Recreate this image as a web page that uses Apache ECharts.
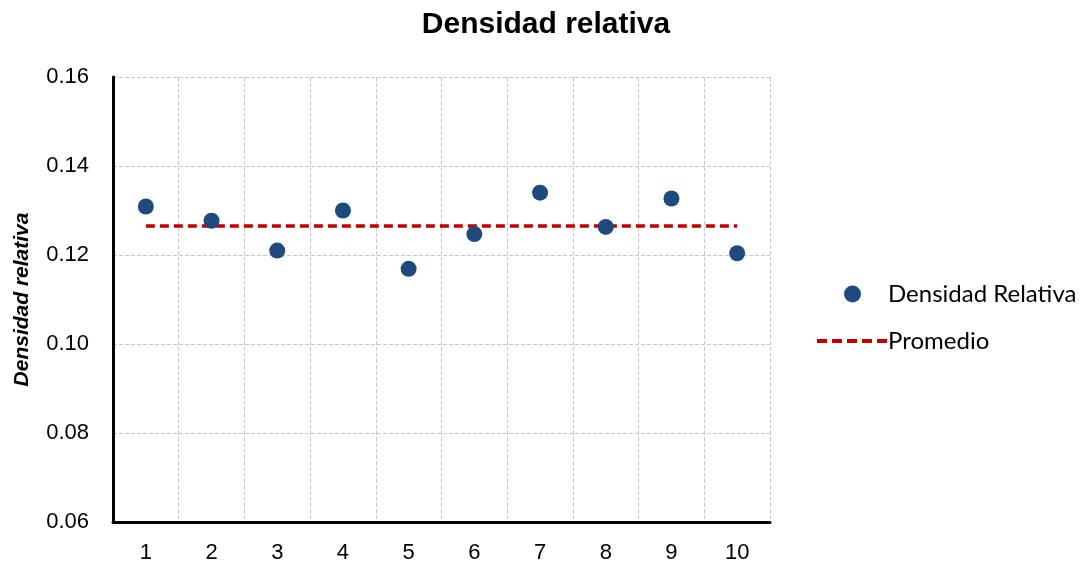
<!DOCTYPE html>
<html><head><meta charset="utf-8">
<script src="https://cdn.jsdelivr.net/npm/echarts@6/dist/echarts.min.js"></script>
<style>html,body{margin:0;padding:0;background:#fff}#c{width:1086px;height:567px}</style>
</head><body><div id="c"></div>
<script>
const categories = ['1','2','3','4','5','6','7','8','9','10'];
const densidad = [0.1309,0.1277,0.1210,0.1300,0.1169,0.1247,0.1340,0.1263,0.1327,0.1204];
const promedioValue = 0.1265;
const promedio = categories.map(() => promedioValue);
const yTicks = {min:0.06, max:0.16, interval:0.02};

const narrow = '"Liberation Sans Narrow", "Arial Narrow", "Liberation Sans", sans-serif';
const dashIcon = 'path://M0,0h10v4h-10z M15,0h10v4h-10z M30,0h10v4h-10z M45,0h10v4h-10z M60,0h10v4h-10z';
const chart = echarts.init(document.getElementById('c'));
chart.setOption({
  animation:false,
  backgroundColor:'#fff',
  title:{text:'Densidad relativa', left:541, textAlign:'center', top:5,
    textStyle:{fontFamily:narrow, fontSize:30, fontWeight:'bold', color:'#000'}},
  grid:{left:113, right:316, top:77, bottom:45},
  legend:[
    {data:[{name:'Densidad Relativa', icon:'circle'}], left:839, top:277, itemWidth:17, itemHeight:17, itemGap:0,
      textStyle:{fontFamily:'Lato, sans-serif', fontSize:24, color:'#000', padding:[0,0,0,22]}},
    {data:[{name:'Promedio', icon:dashIcon}], left:812, top:324, itemWidth:70, itemHeight:4, itemGap:0,
      textStyle:{fontFamily:'Lato, sans-serif', fontSize:24, color:'#000', padding:[0,0,0,-4]}}
  ],
  xAxis:{type:'category', data:categories, boundaryGap:true,
    axisLine:{lineStyle:{color:'#000', width:3}},
    axisTick:{show:false},
    axisLabel:{fontFamily:narrow, fontSize:22, color:'#000', margin:20},
    splitLine:{show:true, lineStyle:{color:'#c8c8c8', type:'dashed', width:1}}
  },
  yAxis:{type:'value', min:yTicks.min, max:yTicks.max, interval:yTicks.interval,
    name:'Densidad relativa', nameLocation:'middle', nameGap:80,
    nameTextStyle:{fontFamily:narrow, fontSize:21, fontWeight:'bold', fontStyle:'italic', color:'#000'},
    axisLine:{show:true, lineStyle:{color:'#000', width:3}},
    axisTick:{show:false},
    axisLabel:{fontFamily:narrow, fontSize:22, color:'#000', margin:24, formatter:v=>v.toFixed(2)},
    splitLine:{show:true, lineStyle:{color:'#c8c8c8', type:'dashed', width:1}}
  },
  series:[
    {name:'Densidad Relativa', type:'scatter', data:densidad, symbolSize:16,
      itemStyle:{color:'#1f4a7d', opacity:1}, z:3},
    {name:'Promedio', type:'line', data:promedio, symbol:'none',
      lineStyle:{color:'#c00000', width:3.5, type:[9,5]}, itemStyle:{color:'#c00000'}, z:2}
  ]
});
</script></body></html>
